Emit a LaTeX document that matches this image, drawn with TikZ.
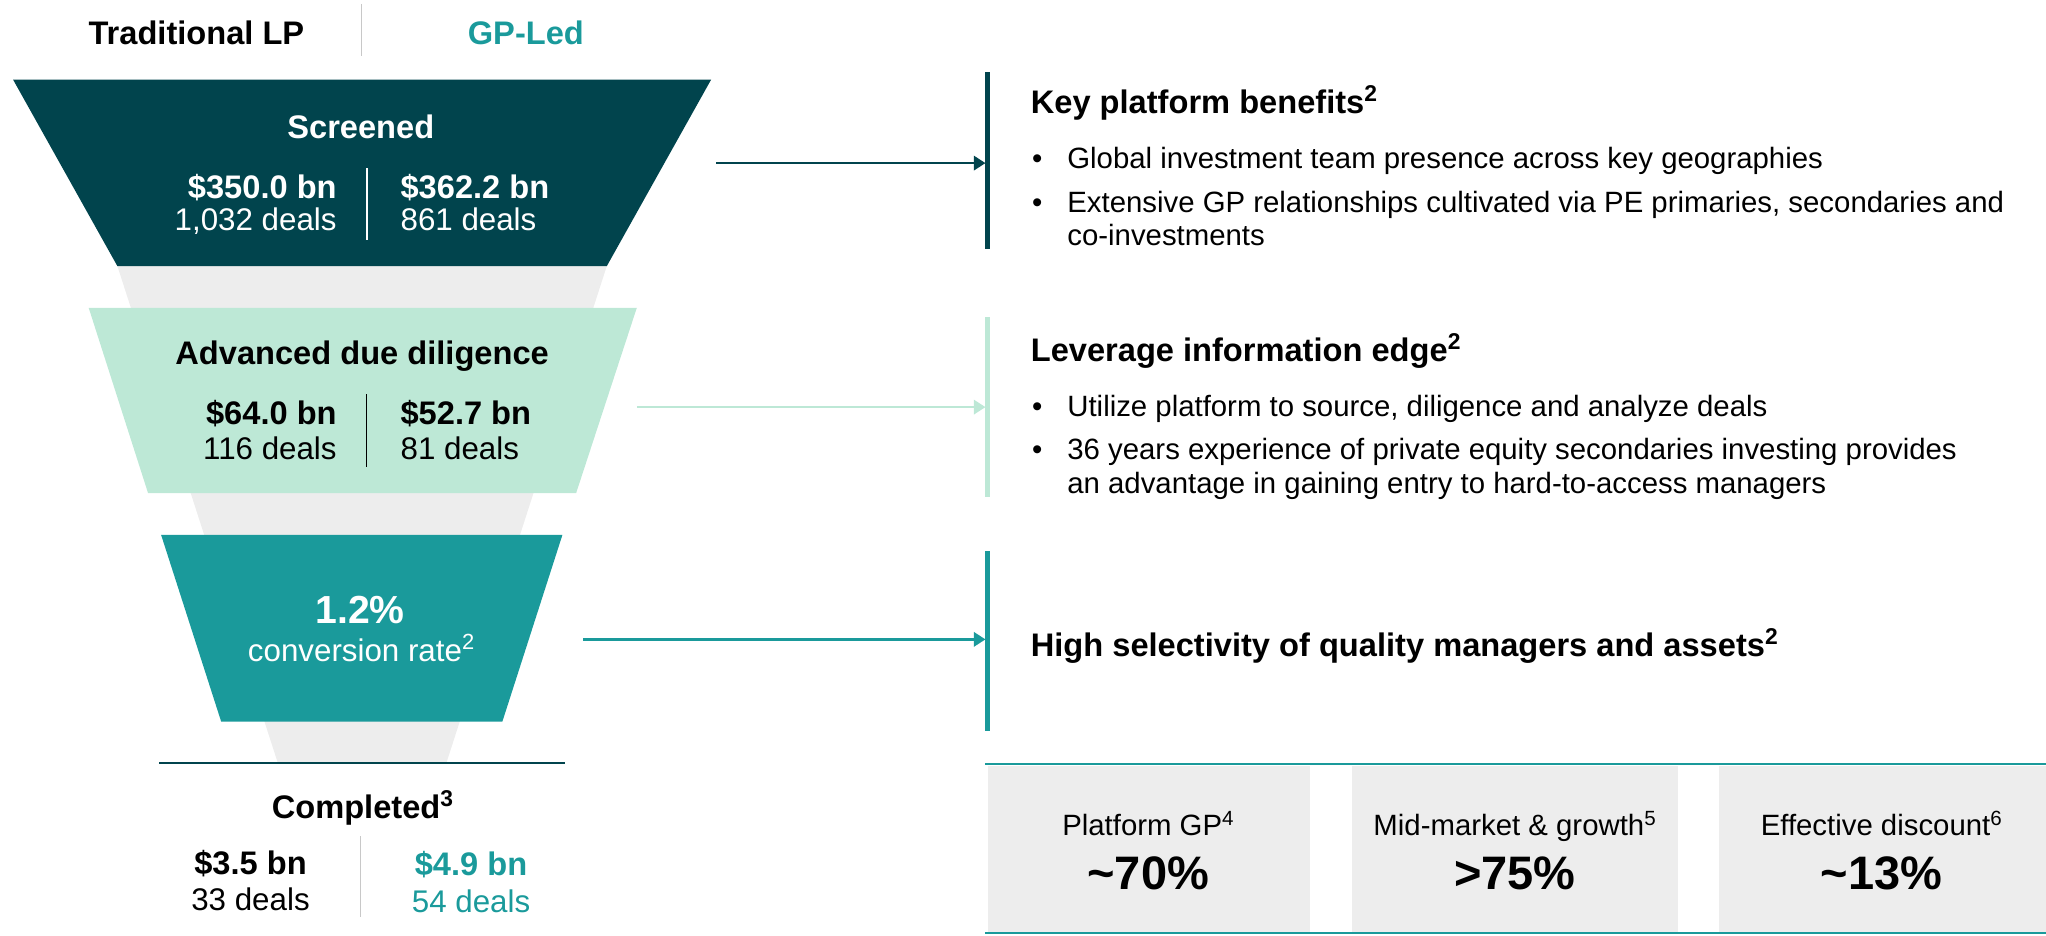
\documentclass[tikz,border=0pt]{standalone}
\usepackage{fontspec}
\setmainfont{Liberation Sans}
\usetikzlibrary{arrows.meta}
\definecolor{dteal}{RGB}{1,68,77}
\definecolor{mint}{RGB}{189,232,214}
\definecolor{teal2}{RGB}{26,154,155}
\definecolor{lgray}{RGB}{237,237,237}
\definecolor{sepgray}{RGB}{200,200,200}
\begin{document}
\begin{tikzpicture}[x=1pt,y=-1pt,
  every node/.style={inner sep=0pt,outer sep=0pt},
  hb/.style={font=\fontsize{25}{30}\selectfont\bfseries},
  rg/.style={font=\fontsize{24}{28}\selectfont},
  bl/.style={font=\fontsize{22.5}{26}\selectfont},
  big/.style={font=\fontsize{36}{40}\selectfont\bfseries},
  barbox/.style={minimum width=3.5pt,minimum height=138pt},
  conn/.style={line width=2pt,-{Triangle[length=9pt,width=11pt]}},
  sep/.style={line width=1pt}]
\useasboundingbox (0,0) rectangle (1568,716.6);

% header
\node[hb,anchor=base] (tlp) at (150.5,34) {Traditional LP};
\node[hb,anchor=base,text=teal2] (gpl) at (403,34) {GP-Led};
\draw[sepgray,sep] (277,3) -- (277,43);

% funnel
\fill[lgray] (90,204) -- (465,204) -- (342,585) -- (213,585) -- cycle;
\fill[dteal] (10,61) -- (545,61) -- (465,204) -- (90,204) -- cycle;
\fill[mint] (68,236) -- (488,236) -- (441.5,378) -- (113.5,378) -- cycle;
\fill[teal2] (123.5,410) -- (431,410) -- (385,553) -- (169.5,553) -- cycle;
\draw[dteal,line width=1.5pt] (122,585) -- (433,585);

% screened
\node[hb,anchor=base,text=white] (scr) at (276.5,106) {Screened};
\node[hb,anchor=base east,text=white] (s350) at (258,152) {\$350.0 bn};
\node[rg,anchor=base east,text=white] (s1032) at (258,177) {1,032 deals};
\node[hb,anchor=base west,text=white] (s362) at (307,152) {\$362.2 bn};
\node[rg,anchor=base west,text=white] (s861) at (307,177) {861 deals};
\draw[white,line width=1.5pt] (281,129) -- (281,184);

% advanced due diligence
\node[hb,anchor=base] (add) at (277.5,279) {Advanced due diligence};
\node[hb,anchor=base east] (a64) at (258,325.5) {\$64.0 bn};
\node[rg,anchor=base east] (a116) at (258,352) {116 deals};
\node[hb,anchor=base west] (a527) at (307,325.5) {\$52.7 bn};
\node[rg,anchor=base west] (a81) at (307,352) {81 deals};
\draw[black,line width=1.2pt] (281,302) -- (281,358);

% conversion
\node[font=\fontsize{30}{34}\selectfont\bfseries,anchor=base,text=white] (pct) at (276,478) {1.2\%};
\node[rg,anchor=base,text=white] (cr) at (277,507) {conversion rate\textsuperscript{2}};

% completed
\node[hb,anchor=base] (cmp) at (278,627) {Completed\textsuperscript{3}};
\node[hb,anchor=base] (c35) at (192,670) {\$3.5 bn};
\node[rg,anchor=base] (c33) at (192,698) {33 deals};
\node[hb,anchor=base,text=teal2] (c49) at (361,671) {\$4.9 bn};
\node[rg,anchor=base,text=teal2] (c54) at (361,699) {54 deals};
\draw[sepgray,sep] (276.5,641) -- (276.5,703);

% bars and arrows
\node[barbox,fill=dteal,minimum height=136pt] (bar1) at (757,123) {};
\node[barbox,fill=mint] (bar2) at (757,312) {};
\node[barbox,fill=teal2] (bar3) at (757,491) {};
\coordinate (a1s) at (549,125);
\coordinate (a2s) at (488,312);
\coordinate (a3s) at (447,490);
\draw[conn,dteal] (a1s) -- (a1s -| bar1.west);
\draw[conn,mint] (a2s) -- (a2s -| bar2.west);
\draw[conn,teal2] (a3s) -- (a3s -| bar3.west);

% right texts
\node[hb,anchor=base west] (h1) at (790,87) {Key platform benefits\textsuperscript{2}};
\node[bl,anchor=base west] (d11) at (791,129) {\textbullet};
\node[bl,anchor=base west] (t11) at (818,129) {Global investment team presence across key geographies};
\node[bl,anchor=base west] (d12) at (791,163) {\textbullet};
\node[bl,anchor=base west] (t12) at (818,163) {Extensive GP relationships cultivated via PE primaries, secondaries and};
\node[bl,anchor=base west] (t12b) at (818,188) {co-investments};

\node[hb,anchor=base west] (h2) at (790,277) {Leverage information edge\textsuperscript{2}};
\node[bl,anchor=base west] (d21) at (791,319) {\textbullet};
\node[bl,anchor=base west] (t21) at (818,319) {Utilize platform to source, diligence and analyze deals};
\node[bl,anchor=base west] (d22) at (791,352) {\textbullet};
\node[bl,anchor=base west] (t22) at (818,352) {36 years experience of private equity secondaries investing provides};
\node[bl,anchor=base west] (t22b) at (818,378) {an advantage in gaining entry to hard-to-access managers};

\node[hb,anchor=base west] (h3) at (790,503) {High selectivity of quality managers and assets\textsuperscript{2}};

% stat boxes
\fill[lgray] (757,587) rectangle (1004,714);
\fill[lgray] (1036,587) rectangle (1286,714);
\fill[lgray] (1317,587) rectangle (1568,714);
\draw[teal2,line width=1.5pt] (755,585.5) -- (1568,585.5);
\draw[teal2,line width=1.5pt] (755,715) -- (1568,715);
\node[bl,anchor=base] (l1) at (880,640) {Platform GP\textsuperscript{4}};
\node[bl,anchor=base] (l2) at (1161,640) {Mid-market \& growth\textsuperscript{5}};
\node[bl,anchor=base] (l3) at (1442,640) {Effective discount\textsuperscript{6}};
\node[big,anchor=base] (n1) at (880,682) {\textasciitilde70\%};
\node[big,anchor=base] (n2) at (1161,682) {>75\%};
\node[big,anchor=base] (n3) at (1442,682) {\textasciitilde13\%};
\end{tikzpicture}
\end{document}
